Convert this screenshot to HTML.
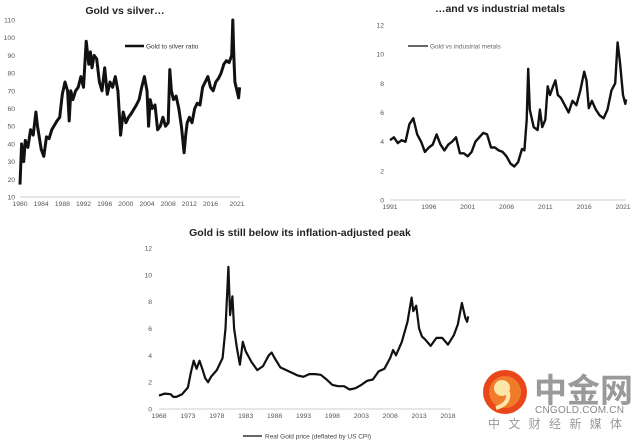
<!DOCTYPE html>
<html><head><meta charset="utf-8"><style>
html,body{margin:0;padding:0;background:#fff;width:640px;height:443px;overflow:hidden}
svg{display:block;font-family:"Liberation Sans",sans-serif}
</style></head><body>
<svg id="c" width="640" height="443" xmlns="http://www.w3.org/2000/svg">
<text x="125" y="14" font-size="10.5" font-weight="bold" text-anchor="middle" fill="#222">Gold vs silver…</text>
<text x="500" y="12" font-size="10.5" font-weight="bold" text-anchor="middle" fill="#222">…and vs industrial metals</text>
<text x="300" y="236" font-size="10.5" font-weight="bold" text-anchor="middle" fill="#222">Gold is still below its inflation-adjusted peak</text>
<g><line x1="125" y1="46" x2="144" y2="46" stroke="#111" stroke-width="2.5"/><text x="146" y="48.5" font-size="6.5" fill="#333">Gold to silver ratio</text></g>
<g><line x1="408" y1="46" x2="428" y2="46" stroke="#333" stroke-width="1.4"/><text x="430" y="48.5" font-size="6.5" fill="#666">Gold vs industrial metals</text></g>
<g><line x1="243" y1="436" x2="262" y2="436" stroke="#333" stroke-width="1.4"/><text x="265" y="438.5" font-size="6.5" fill="#444">Real Gold price (deflated by US CPI)</text></g>
<g>
<circle cx="505" cy="392" r="22" fill="#e8471c"/>
<circle cx="505" cy="392" r="16" fill="#f07b2a"/>
<circle cx="502" cy="388" r="8" fill="#fde7a8"/>
<path d="M508 392 q2 12 -12 16" stroke="#fde7a8" stroke-width="4" fill="none"/>
<text x="534" y="402" font-size="33" font-weight="bold" fill="#9a9a9a" font-family="'Liberation Sans','Noto Sans CJK SC',sans-serif">中金网</text>
<text x="535" y="413" font-size="10" fill="#888" textLength="89">CNGOLD.COM.CN</text>
<text x="488" y="428" font-size="12" fill="#999" textLength="134" font-family="'Liberation Sans','Noto Sans CJK SC',sans-serif">中文财经新媒体</text>
</g>
</svg>
<script>
const c1Years=[1980,1980.3,1980.7,1981,1981.5,1982,1982.5,1983,1983.3,1984,1984.5,1985,1985.5,1986,1987,1987.5,1988,1988.5,1989,1989.3,1989.6,1990,1990.5,1991,1991.5,1992,1992.5,1993,1993.3,1993.6,1994,1994.5,1995,1995.5,1996,1996.5,1997,1997.5,1998,1998.5,1999,1999.5,2000,2000.5,2001,2002,2002.5,2003,2003.5,2004,2004.3,2004.6,2005,2005.5,2006,2006.5,2007,2007.5,2008,2008.3,2008.6,2009,2009.5,2010,2010.5,2011,2011.3,2011.6,2012,2012.5,2013,2013.5,2014,2014.5,2015,2015.5,2016,2016.5,2017,2017.5,2018,2018.5,2019,2019.5,2020,2020.2,2020.4,2020.6,2021,2021.3,2021.5];
const c1Values=[17,40,30,42,38,48,45,58,50,37,33,44,43,48,53,55,68,75,70,53,70,65,70,72,78,72,98,85,92,83,90,88,75,70,83,68,75,72,78,70,45,58,52,55,57,62,65,72,78,70,50,65,60,62,48,50,55,50,52,82,70,65,67,60,50,35,45,52,55,52,60,63,62,72,75,78,72,70,75,77,80,85,87,86,90,110,90,75,70,66,72];
const c1YTicks=[10,20,30,40,50,60,70,80,90,100,110];
const c1XTicks=[1980,1984,1988,1992,1996,2000,2004,2008,2012,2016,2021];

const c2Years=[1991,1991.5,1992,1992.5,1993,1993.5,1994,1994.5,1995,1995.5,1996,1996.5,1997,1997.5,1998,1998.5,1999,1999.5,2000,2000.5,2001,2001.5,2002,2002.5,2003,2003.5,2004,2004.5,2005,2005.5,2006,2006.5,2007,2007.5,2008,2008.3,2008.6,2008.8,2009,2009.5,2010,2010.3,2010.6,2011,2011.3,2011.6,2012,2012.3,2012.6,2013,2013.5,2014,2014.5,2015,2015.5,2016,2016.3,2016.6,2017,2017.5,2018,2018.5,2019,2019.5,2020,2020.3,2020.6,2021,2021.3,2021.4];
const c2Values=[4.1,4.3,3.9,4.1,4.0,5.2,5.6,4.5,4.0,3.3,3.6,3.8,4.5,3.8,3.4,3.8,4.0,4.3,3.2,3.2,3.0,3.3,4.0,4.3,4.6,4.5,3.6,3.6,3.4,3.3,3.0,2.5,2.3,2.6,3.5,3.4,5.5,9.0,6.2,5.0,4.8,6.2,5.0,5.5,7.8,7.2,7.8,8.2,7.2,7.0,6.5,6.0,6.8,6.5,7.5,8.8,8.2,6.3,6.8,6.2,5.8,5.6,6.2,7.5,8.0,10.8,9.5,7.2,6.6,6.9];
const c2YTicks=[0,2,4,6,8,10,12];
const c2XTicks=[1991,1996,2001,2006,2011,2016,2021];

const c3Years=[1968,1969,1970,1970.5,1971,1972,1973,1973.5,1974,1974.5,1975,1975.5,1976,1976.5,1977,1978,1979,1979.5,1980,1980.3,1980.7,1981,1981.5,1982,1982.5,1983,1984,1985,1986,1987,1987.5,1988,1989,1990,1991,1992,1993,1994,1995,1996,1997,1998,1999,2000,2001,2002,2003,2004,2005,2006,2007,2008,2008.5,2009,2010,2011,2011.7,2012,2012.5,2013,2013.5,2014,2015,2016,2017,2018,2019,2019.7,2020.4,2021,2021.3,2021.5];
const c3Values=[1.0,1.15,1.1,0.9,0.9,1.1,1.6,2.7,3.6,3.0,3.6,3.0,2.3,2.0,2.4,2.9,3.8,6,10.6,7,8.4,6,4.5,3.3,5.0,4.3,3.5,2.9,3.2,4.0,4.2,3.8,3.1,2.9,2.7,2.5,2.4,2.6,2.6,2.55,2.2,1.8,1.7,1.7,1.45,1.55,1.8,2.1,2.2,2.8,3.0,3.8,4.4,4.0,5.0,6.5,8.3,7.3,7.7,6.0,5.4,5.2,4.7,5.3,5.3,4.8,5.5,6.3,7.9,6.8,6.5,6.9];
const c3YTicks=[0,2,4,6,8,10,12];
const c3XTicks=[1968,1973,1978,1983,1988,1993,1998,2003,2008,2013,2018];

const NS='http://www.w3.org/2000/svg';
const svg=document.getElementById('c');
function mk(tag,attrs){const e=document.createElementNS(NS,tag);for(const k in attrs)e.setAttribute(k,attrs[k]);svg.appendChild(e);return e;}
function chart(id,years,vals,yt,xt,x0,x1,xa,xb,y0,y1,ya,yb,labelX,color,sw){
  const sx=v=>x0+(v-xa)/(xb-xa)*(x1-x0);
  const sy=v=>y0+(v-ya)/(yb-ya)*(y1-y0);
  const ax=mk('line',{x1:sx(xa),x2:sx(xt[xt.length-1])+3,y1:y0,y2:y0,stroke:'#ccc','stroke-width':1});
  
  
  yt.forEach(t=>{const e=mk('text',{x:labelX,y:sy(t)+2.5,'font-size':6.8,fill:'#555','text-anchor':'end'});e.textContent=t;
    
    });
  xt.forEach(t=>{const e=mk('text',{x:sx(t),y:y0+9,'font-size':6.8,fill:'#555','text-anchor':'middle'});e.textContent=t;
    
    });
  const d=years.map((y,i)=>(i?'L':'M')+sx(y).toFixed(1)+' '+sy(vals[i]).toFixed(1)).join(' ');
  const p=mk('path',{d:d,fill:'none',stroke:color,'stroke-width':sw,'stroke-linejoin':'round'});
  
  
}
chart('chart1',c1Years,c1Values,c1YTicks,c1XTicks,20,237,1980,2021,197,20,10,110,15,'#111',3);
chart('chart2',c2Years,c2Values,c2YTicks,c2XTicks,390,623,1991,2021,200,25,0,12,384,'#111',2.4);
chart('chart3',c3Years,c3Values,c3YTicks,c3XTicks,159,448,1968,2018,409,248,0,12,152,'#111',2.2);
</script>
</body></html>
